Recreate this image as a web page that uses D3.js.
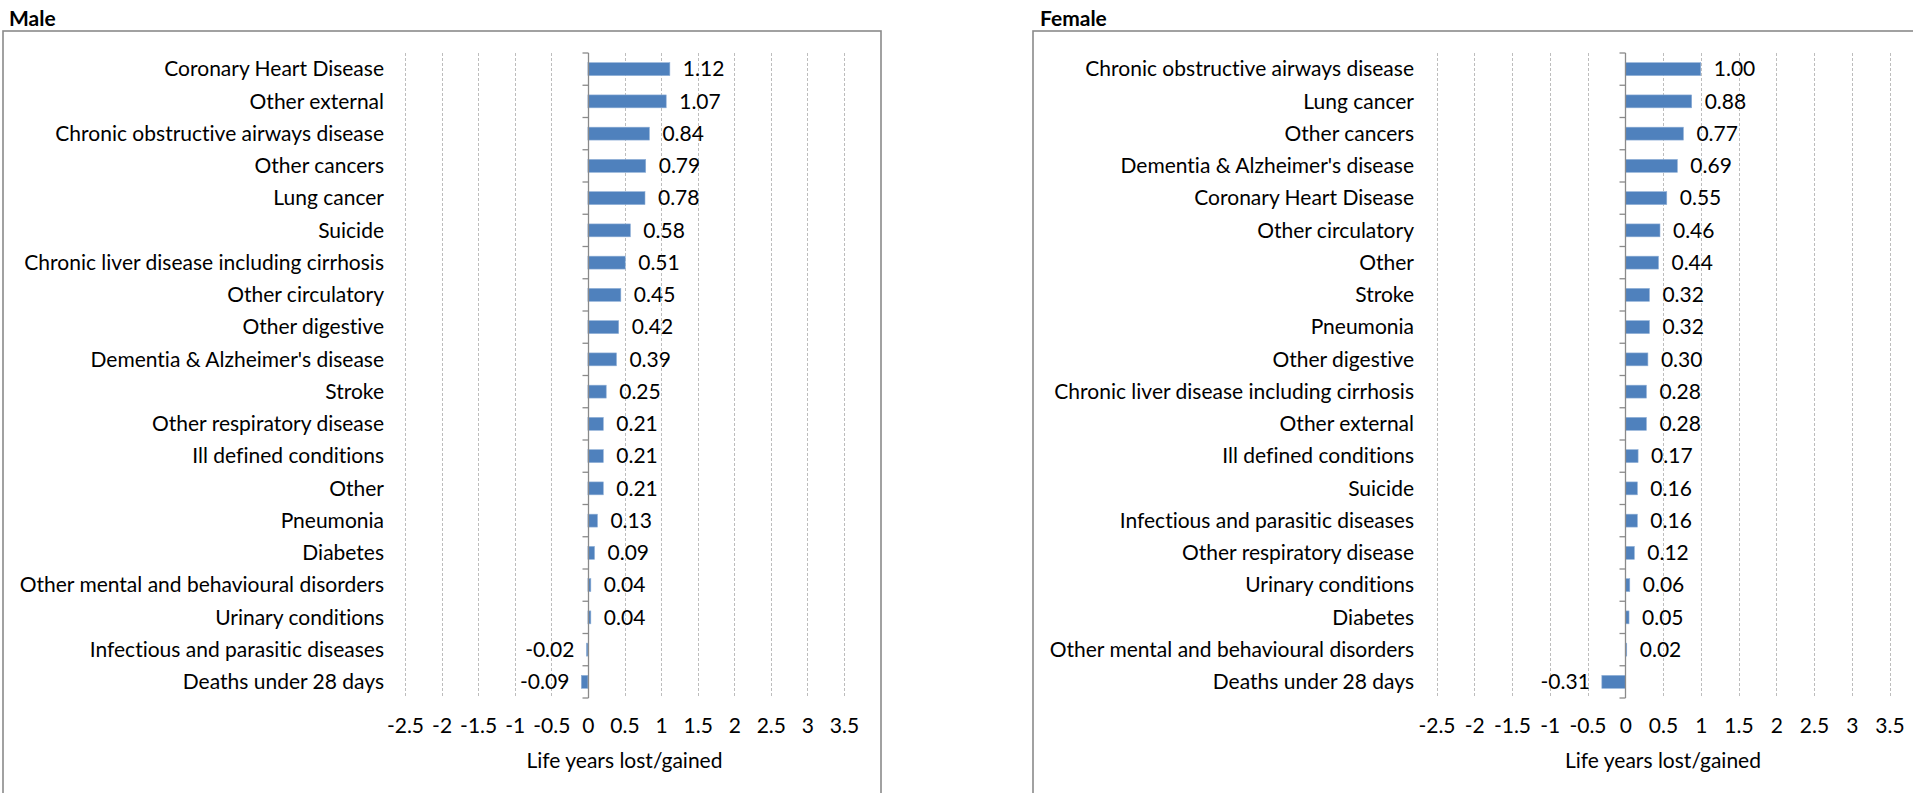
<!DOCTYPE html>
<html>
<head>
<meta charset="utf-8">
<script src="https://cdn.jsdelivr.net/npm/d3@7"></script>
<style>
  html, body { margin: 0; padding: 0; background: #ffffff; }
  svg { display: block; font-family: Lato, "Open Sans", sans-serif; font-variant-ligatures: none; }
</style>
</head>
<body>
<svg id="chart" width="1913" height="793"></svg>
<script>
// Causes of death, life years lost (+) / gained (-), ordered as plotted (top to bottom)
const maleCauses = [
  "Coronary Heart Disease", "Other external", "Chronic obstructive airways disease",
  "Other cancers", "Lung cancer", "Suicide", "Chronic liver disease including cirrhosis",
  "Other circulatory", "Other digestive", "Dementia & Alzheimer's disease", "Stroke",
  "Other respiratory disease", "Ill defined conditions", "Other", "Pneumonia", "Diabetes",
  "Other mental and behavioural disorders", "Urinary conditions",
  "Infectious and parasitic diseases", "Deaths under 28 days"
];
const maleValues = [1.12, 1.07, 0.84, 0.79, 0.78, 0.58, 0.51, 0.45, 0.42, 0.39,
                    0.25, 0.21, 0.21, 0.21, 0.13, 0.09, 0.04, 0.04, -0.02, -0.09];

const femaleCauses = [
  "Chronic obstructive airways disease", "Lung cancer", "Other cancers",
  "Dementia & Alzheimer's disease", "Coronary Heart Disease", "Other circulatory", "Other",
  "Stroke", "Pneumonia", "Other digestive", "Chronic liver disease including cirrhosis",
  "Other external", "Ill defined conditions", "Suicide", "Infectious and parasitic diseases",
  "Other respiratory disease", "Urinary conditions", "Diabetes",
  "Other mental and behavioural disorders", "Deaths under 28 days"
];
const femaleValues = [1.00, 0.88, 0.77, 0.69, 0.55, 0.46, 0.44, 0.32, 0.32, 0.30,
                      0.28, 0.28, 0.17, 0.16, 0.16, 0.12, 0.06, 0.05, 0.02, -0.31];

const xTicks = [-2.5, -2, -1.5, -1, -0.5, 0, 0.5, 1, 1.5, 2, 2.5, 3, 3.5];
const xTickLabels = ["-2.5", "-2", "-1.5", "-1", "-0.5", "0", "0.5", "1", "1.5", "2", "2.5", "3", "3.5"];
const xDomain = [-2.5, 3.5];
const axisTitle = "Life years lost/gained";

const svg = d3.select("#chart");
const BAR = "#4f81bd";
const FONT = 21;
// two decimals, plain hyphen for negatives
const fmt = d3.formatLocale({ decimal: ".", thousands: ",", grouping: [3], currency: ["", ""], minus: "-" }).format(".2f");

function drawPanel(opt) {
  const g = svg.append("g");

  // outer chart frame (runs off the bottom/right of the page)
  g.append("rect")
    .attr("x", opt.frame[0]).attr("y", opt.frame[1])
    .attr("width", opt.frame[2]).attr("height", opt.frame[3])
    .attr("fill", "none").attr("stroke", "#8a8a8a").attr("stroke-width", 1.6);

  // panel title
  g.append("text")
    .attr("x", opt.titleX).attr("y", 26)
    .attr("font-size", 21).attr("font-weight", "bold").attr("fill", "#000")
    .text(opt.title);

  const x = d3.scaleLinear().domain(xDomain).range([opt.x0, opt.x1]);
  const y = d3.scaleBand().domain(opt.causes).range([opt.y0, opt.y1]).paddingInner(0.6).paddingOuter(0.3);
  const band = d3.scaleBand().domain(opt.causes).range([opt.y0, opt.y1]);

  // dashed vertical gridlines
  g.append("g").selectAll("line").data(xTicks.filter(t => t !== 0)).join("line")
    .attr("x1", d => Math.round(x(d)) + 0.5).attr("x2", d => Math.round(x(d)) + 0.5)
    .attr("y1", opt.y0).attr("y2", opt.y1)
    .attr("stroke", "#bdbdbd").attr("stroke-width", 1).attr("stroke-dasharray", "3,2");

  // horizontal value axis: labels only
  const xAxis = d3.axisBottom(x).tickValues(xTicks)
    .tickFormat((d, i) => xTickLabels[i]).tickSize(0).tickPadding(0);
  const xa = g.append("g").attr("transform", `translate(0,${opt.y1 + 28})`).call(xAxis);
  xa.select(".domain").remove();
  xa.selectAll("text").attr("font-size", FONT).attr("fill", "#000")
    .attr("font-family", "Lato, 'Open Sans', sans-serif").attr("dy", "0.35em").attr("y", 0);

  // axis title
  g.append("text")
    .attr("x", (opt.x0 + opt.x1) / 2).attr("y", opt.y1 + 70)
    .attr("text-anchor", "middle").attr("font-size", FONT).attr("fill", "#000")
    .text(axisTitle);

  // bars
  g.append("g").selectAll("rect").data(opt.values).join("rect")
    .attr("x", d => x(Math.min(0, d)))
    .attr("width", d => Math.abs(x(d) - x(0)))
    .attr("y", (d, i) => y(opt.causes[i]))
    .attr("height", y.bandwidth())
    .attr("fill", BAR).attr("stroke", "#8eaed6").attr("stroke-width", 0.6);

  // category axis at zero, with outward ticks at band boundaries
  const x0 = Math.round(x(0)) + 0.5;
  const edges = opt.causes.map(c => band(c)).concat([opt.y1]);
  g.append("line").attr("x1", x0).attr("x2", x0).attr("y1", opt.y0).attr("y2", opt.y1)
    .attr("stroke", "#8a8a8a").attr("stroke-width", 1.3);
  g.append("g").selectAll("line").data(edges).join("line")
    .attr("x1", x0 - 6).attr("x2", x0).attr("y1", d => d).attr("y2", d => d)
    .attr("stroke", "#8a8a8a").attr("stroke-width", 1.3);

  // category labels, right-aligned left of the plot area
  g.append("g").selectAll("text").data(opt.causes).join("text")
    .attr("x", opt.labelRight)
    .attr("y", d => band(d) + band.bandwidth() / 2)
    .attr("dy", "0.35em").attr("text-anchor", "end")
    .attr("font-size", FONT).attr("fill", "#000")
    .text(d => d);

  // value labels at the outer end of each bar
  g.append("g").selectAll("text").data(opt.values).join("text")
    .attr("x", d => d >= 0 ? x(d) + 13 : x(d) - 12)
    .attr("y", (d, i) => band(opt.causes[i]) + band.bandwidth() / 2)
    .attr("dy", "0.35em").attr("text-anchor", d => d >= 0 ? "start" : "end")
    .attr("font-size", FONT).attr("fill", "#000")
    .text(d => fmt(d));
}

drawPanel({
  title: "Male", titleX: 9, frame: [3, 31, 878, 800],
  causes: maleCauses, values: maleValues,
  x0: 405, x1: 844, y0: 53, y1: 698, labelRight: 384
});

drawPanel({
  title: "Female", titleX: 1040, frame: [1033, 31, 900, 800],
  causes: femaleCauses, values: femaleValues,
  x0: 1436.5, x1: 1889.5, y0: 53, y1: 698, labelRight: 1414
});
</script>
</body>
</html>
